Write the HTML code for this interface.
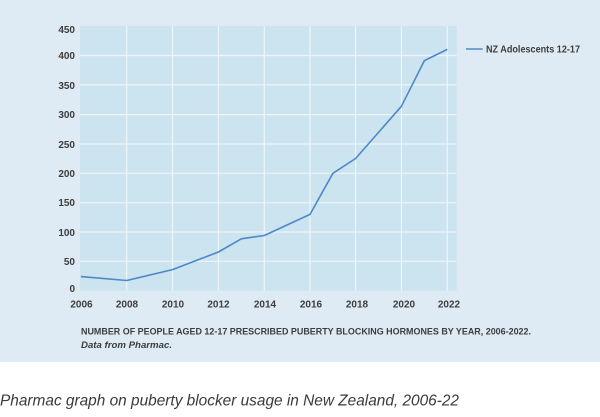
<!DOCTYPE html>
<html><head><meta charset="utf-8"><style>
html,body{margin:0;padding:0;background:#fff;}
svg{display:block;}
</style></head><body>
<svg width="600" height="417" viewBox="0 0 600 417" xmlns="http://www.w3.org/2000/svg">
<rect x="0" y="0" width="600" height="362" fill="#deebf5"/>
<rect x="80" y="26" width="376.7" height="264.7" fill="#cce3f0"/>
<g stroke="#edf5fa" stroke-width="1.2">
<line x1="80" x2="456.7" y1="55.5" y2="55.5"/>
<line x1="80" x2="456.7" y1="84.9" y2="84.9"/>
<line x1="80" x2="456.7" y1="114.6" y2="114.6"/>
<line x1="80" x2="456.7" y1="144" y2="144"/>
<line x1="80" x2="456.7" y1="173.3" y2="173.3"/>
<line x1="80" x2="456.7" y1="202.7" y2="202.7"/>
<line x1="80" x2="456.7" y1="232" y2="232"/>
<line x1="80" x2="456.7" y1="261.3" y2="261.3"/>
<line x1="126.7" x2="126.7" y1="26" y2="290.7"/>
<line x1="172.5" x2="172.5" y1="26" y2="290.7"/>
<line x1="218.4" x2="218.4" y1="26" y2="290.7"/>
<line x1="264.3" x2="264.3" y1="26" y2="290.7"/>
<line x1="310" x2="310" y1="26" y2="290.7"/>
<line x1="355.6" x2="355.6" y1="26" y2="290.7"/>
<line x1="401.4" x2="401.4" y1="26" y2="290.7"/>
<line x1="447.3" x2="447.3" y1="26" y2="290.7"/>
</g>
<polyline fill="none" stroke="#4d89c6" stroke-width="1.6" stroke-linejoin="round" points="80.9,276.6 126.7,280.5 172.5,269.6 218.4,252 241.3,238.8 264.3,235.5 310,214.4 332.9,173.3 355.6,158.5 401.4,106.3 424.4,60.6 447.3,49.4"/>
<g font-family="Liberation Sans, sans-serif" font-weight="bold" font-size="10" fill="#3d3d3d" text-anchor="end">
<text x="75" y="33">450</text>
<text x="75" y="59">400</text>
<text x="75" y="89">350</text>
<text x="75" y="118">300</text>
<text x="75" y="148">250</text>
<text x="75" y="177">200</text>
<text x="75" y="206">150</text>
<text x="75" y="236">100</text>
<text x="75" y="265">50</text>
<text x="75" y="292">0</text>
</g>
<g font-family="Liberation Sans, sans-serif" font-weight="bold" font-size="10" fill="#3d3d3d" text-anchor="middle">
<text x="81.5" y="307.5">2006</text>
<text x="127" y="307.5">2008</text>
<text x="173" y="307.5">2010</text>
<text x="218.5" y="307.5">2012</text>
<text x="265" y="307.5">2014</text>
<text x="311" y="307.5">2016</text>
<text x="357" y="307.5">2018</text>
<text x="404" y="307.5">2020</text>
<text x="449" y="307.5">2022</text>
</g>
<line x1="466" x2="482.7" y1="49" y2="49" stroke="#4d89c6" stroke-width="1.6"/>
<text x="486" y="52.5" font-family="Liberation Sans, sans-serif" font-weight="bold" font-size="10" fill="#3d3d3d" textLength="94" lengthAdjust="spacingAndGlyphs">NZ Adolescents 12-17</text>
<text x="81" y="334.5" font-family="Liberation Sans, sans-serif" font-weight="bold" font-size="9" fill="#3d3d3d" textLength="450" lengthAdjust="spacingAndGlyphs">NUMBER OF PEOPLE AGED 12-17 PRESCRIBED PUBERTY BLOCKING HORMONES BY YEAR, 2006-2022.</text>
<text x="81" y="348" font-family="Liberation Sans, sans-serif" font-weight="bold" font-style="italic" font-size="9" fill="#3d3d3d" textLength="91" lengthAdjust="spacingAndGlyphs">Data from Pharmac.</text>
<text x="0" y="405.5" font-family="Liberation Sans, sans-serif" font-style="italic" font-size="16" fill="#3a3a3a" textLength="459" lengthAdjust="spacingAndGlyphs">Pharmac graph on puberty blocker usage in New Zealand, 2006-22</text>
</svg>
</body></html>
